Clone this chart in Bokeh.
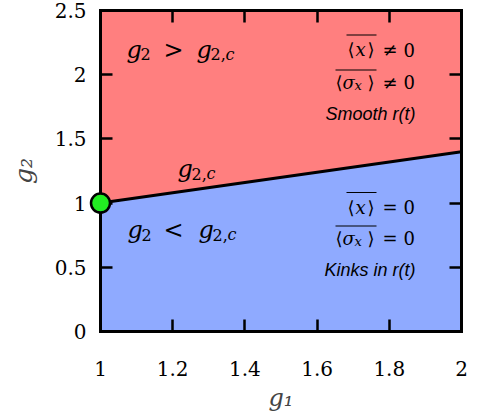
from bokeh.plotting import figure
from bokeh.models import Range1d, LinearAxis, FixedTicker, Label, BoxAnnotation
from bokeh.embed import file_html
from bokeh.resources import INLINE

# ---- data ----
g1 = [1.0, 2.0]
g2c = [1.0, 1.4]
g2_top = [2.5, 2.5]
g2_bottom = [0.0, 0.0]
point_g1 = [1.0]
point_g2 = [1.0]
x_ticks = [1.0, 1.2, 1.4, 1.6, 1.8, 2.0]
x_tick_labels = ["1", "1.2", "1.4", "1.6", "1.8", "2"]
y_ticks = [0.0, 0.5, 1.0, 1.5, 2.0, 2.5]
y_tick_labels = ["0", "0.5", "1", "1.5", "2", "2.5"]

RED = "#ff7f7f"
BLUE = "#8faaff"
GREEN = "#22ee22"
SERIF = "DejaVu Serif"
SANS_IT = "Liberation Sans"

W, H = 474, 420
FL, FT, FR, FB = 100, 10, 461, 331  # frame edges in canvas px
TEXT_DY = -6.5  # baseline correction for labels

p = figure(width=W, height=H, x_range=Range1d(1, 2), y_range=Range1d(0, 2.5),
           output_backend="svg", toolbar_location=None,
           x_axis_location=None, y_axis_location=None,
           min_border_left=FL, min_border_right=W - FR,
           min_border_top=FT, min_border_bottom=H - FB)
p.outline_line_color = None
p.background_fill_color = "white"
p.border_fill_color = "white"


def style_axis(ax, ticks, labels, show):
    ax.ticker = FixedTicker(ticks=ticks)
    ax.axis_line_width = 3
    ax.axis_line_color = "black"
    ax.axis_line_cap = "square"
    ax.major_tick_in = 12
    ax.major_tick_out = 0
    ax.major_tick_line_width = 2.5
    ax.minor_tick_line_color = None
    ax.major_label_text_font = SERIF
    if show:
        ax.major_label_overrides = {t: l for t, l in zip(ticks, labels)}
        ax.major_label_text_font_size = "20px"
        ax.major_label_text_color = "black"
    else:
        ax.major_label_text_font_size = "1px"
        ax.major_label_text_color = None
        ax.major_label_standoff = 0


xb = LinearAxis()
style_axis(xb, x_ticks, x_tick_labels, True)
xb.major_label_standoff = 29
xb.axis_label = "g\u2081"
xb.axis_label_text_font = SERIF
xb.axis_label_text_font_style = "italic"
xb.axis_label_text_font_size = "24px"
xb.axis_label_standoff = 5
p.add_layout(xb, "below")

yl = LinearAxis()
style_axis(yl, y_ticks, y_tick_labels, True)
yl.major_label_standoff = 14
yl.axis_label = "g\u2082"
yl.axis_label_text_font = SERIF
yl.axis_label_text_font_style = "italic"
yl.axis_label_text_font_size = "25px"
yl.axis_label_standoff = 14
p.add_layout(yl, "left")

xt = LinearAxis()
style_axis(xt, x_ticks, x_tick_labels, False)
p.add_layout(xt, "above")

yr = LinearAxis()
style_axis(yr, y_ticks, y_tick_labels, False)
p.add_layout(yr, "right")

# ---- regions ----
p.varea(x=g1, y1=g2c, y2=g2_top, fill_color=RED)
p.varea(x=g1, y1=g2_bottom, y2=g2c, fill_color=BLUE)
p.line(g1, g2c, line_width=3, line_color="black")
p.scatter(point_g1, point_g2, size=19, fill_color=GREEN, line_color="black",
          line_width=2.5, level="overlay")

# ---- text placement helpers (canvas px -> data) ----


def X(px):
    return 1 + (px - FL) / (FR - FL)


def Y(py):
    return 2.5 * (FB - py) / (FB - FT)


def put(txt, px, py, size, style="normal", font=SERIF, align="left"):
    p.add_layout(Label(x=X(px), y=Y(py + TEXT_DY), text=txt, text_font=font,
                       text_font_size=f"{size}px", text_font_style=style,
                       text_align=align, text_baseline="alphabetic",
                       text_color="black"))


def overline(px0, px1, py):
    p.add_layout(BoxAnnotation(left=X(px0), right=X(px1), top=Y(py - 0.6),
                               bottom=Y(py + 0.6), fill_color="black",
                               fill_alpha=1, line_color=None))


BIG, SUB = 24, 16


def g_expr(rel, px, py, rel_dx, g2_dx):
    put("g", px, py, BIG, "italic")
    put("2", px + 14, py + 4.5, SUB)
    put(rel, px + rel_dx, py, BIG)
    put("g", px + g2_dx, py, BIG, "italic")
    put("2,", px + g2_dx + 14, py + 4.5, SUB)
    put("c", px + g2_dx + 29, py + 4.5, SUB, "italic")


g_expr(">", 126, 55.5, 37, 70)   # g2 > g2,c
g_expr("<", 127, 236, 36, 71)    # g2 < g2,c

# g2,c on the line
put("g", 177, 175, BIG, "italic")
put("2,", 191, 179.5, SUB)
put("c", 206, 179.5, SUB, "italic")

MS, MSUB = 18, 13


def avg_line(rel, py, with_sigma):
    if with_sigma:
        put("\u27e8", 335, py, MS)
        put("\u03c3", 342, py, MS, "italic")
        put("x", 354, py + 3.5, MSUB, "italic")
        put("\u27e9", 367, py, MS)
        overline(335, 376, py - 18.5)
    else:
        put("\u27e8", 347, py, MS)
        put("x", 355, py, MS, "italic")
        put("\u27e9", 367, py, MS)
        overline(346, 376, py - 21)
    put(rel, 382, py, MS)
    put("0", 403, py, MS)


avg_line("\u2260", 55.5, False)
avg_line("\u2260", 88, True)
put("Smooth r(t)", 415, 120, 18, "italic", SANS_IT, "right")

avg_line("=", 213, False)
avg_line("=", 244, True)
put("Kinks in r(t)", 415, 275.5, 18, "italic", SANS_IT, "right")

open("out.html", "w").write(file_html(p, INLINE))
